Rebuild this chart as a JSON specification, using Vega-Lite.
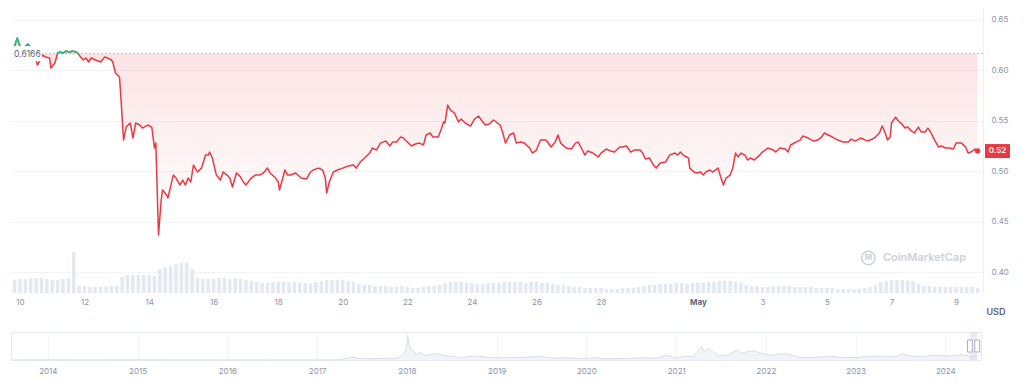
{
"$schema":"https://vega.github.io/schema/vega-lite/v6.json",
"background":"#ffffff",
"padding":{"left":8,"top":8,"right":0,"bottom":0},
"config":{"font":"Inter","view":{"stroke":null}},
"spacing":15,
"datasets":{
"price":[
{"t":"2024-04-09T19:00","p":0.6202},{"t":"2024-04-09T22:00","p":0.6321},{"t":"2024-04-10T01:00","p":0.6202},{"t":"2024-04-10T06:00","p":0.6262},{"t":"2024-04-10T10:00","p":0.6182},{"t":"2024-04-10T13:00","p":0.6053},{"t":"2024-04-10T17:00","p":0.6152},{"t":"2024-04-10T19:00","p":0.6133},{"t":"2024-04-10T22:00","p":0.6123},{"t":"2024-04-10T23:00","p":0.6023},
{"t":"2024-04-11T02:00","p":0.6073},{"t":"2024-04-11T04:00","p":0.6172},{"t":"2024-04-11T06:00","p":0.6182},{"t":"2024-04-11T08:00","p":0.6172},{"t":"2024-04-11T10:00","p":0.6192},{"t":"2024-04-11T13:00","p":0.6182},{"t":"2024-04-11T15:00","p":0.6192},{"t":"2024-04-11T18:00","p":0.6182},{"t":"2024-04-11T19:00","p":0.6172},{"t":"2024-04-11T21:00","p":0.6133},{"t":"2024-04-11T23:00","p":0.6103},
{"t":"2024-04-12T01:00","p":0.6123},{"t":"2024-04-12T03:00","p":0.6083},{"t":"2024-04-12T05:00","p":0.6123},{"t":"2024-04-12T08:00","p":0.6103},{"t":"2024-04-12T10:00","p":0.6093},{"t":"2024-04-12T12:00","p":0.6083},{"t":"2024-04-12T15:00","p":0.6133},{"t":"2024-04-12T17:00","p":0.6123},{"t":"2024-04-12T20:00","p":0.6103},{"t":"2024-04-12T21:00","p":0.6083},{"t":"2024-04-12T23:00","p":0.5974},
{"t":"2024-04-13T02:00","p":0.5934},{"t":"2024-04-13T03:00","p":0.5736},{"t":"2024-04-13T05:00","p":0.5309},{"t":"2024-04-13T07:00","p":0.5438},{"t":"2024-04-13T10:00","p":0.5478},{"t":"2024-04-13T12:00","p":0.5329},{"t":"2024-04-13T14:00","p":0.5478},{"t":"2024-04-13T17:00","p":0.5458},{"t":"2024-04-13T19:00","p":0.5428},{"t":"2024-04-13T23:00","p":0.5458},
{"t":"2024-04-14T02:00","p":0.5438},{"t":"2024-04-14T04:00","p":0.523},{"t":"2024-04-14T05:00","p":0.5279},{"t":"2024-04-14T07:00","p":0.4367},{"t":"2024-04-14T09:00","p":0.4714},{"t":"2024-04-14T10:00","p":0.4813},{"t":"2024-04-14T13:00","p":0.4764},{"t":"2024-04-14T14:00","p":0.4734},{"t":"2024-04-14T18:00","p":0.4962},{"t":"2024-04-14T20:00","p":0.4932},{"t":"2024-04-14T23:00","p":0.4863},
{"t":"2024-04-15T01:00","p":0.4912},{"t":"2024-04-15T03:00","p":0.4863},{"t":"2024-04-15T05:00","p":0.4932},{"t":"2024-04-15T07:00","p":0.4893},{"t":"2024-04-15T09:00","p":0.5061},{"t":"2024-04-15T12:00","p":0.4992},{"t":"2024-04-15T15:00","p":0.5031},{"t":"2024-04-15T18:00","p":0.516},{"t":"2024-04-15T20:00","p":0.516},{"t":"2024-04-15T21:00","p":0.519},{"t":"2024-04-15T23:00","p":0.5131},
{"t":"2024-04-16T02:00","p":0.4962},{"t":"2024-04-16T05:00","p":0.4912},{"t":"2024-04-16T07:00","p":0.4992},{"t":"2024-04-16T10:00","p":0.4962},{"t":"2024-04-16T12:00","p":0.4932},{"t":"2024-04-16T14:00","p":0.4843},{"t":"2024-04-16T17:00","p":0.4982},{"t":"2024-04-16T20:00","p":0.4942},{"t":"2024-04-16T22:00","p":0.4893},
{"t":"2024-04-17T00:00","p":0.4863},{"t":"2024-04-17T04:00","p":0.4932},{"t":"2024-04-17T07:00","p":0.4962},{"t":"2024-04-17T10:00","p":0.4962},{"t":"2024-04-17T13:00","p":0.4982},{"t":"2024-04-17T16:00","p":0.5031},{"t":"2024-04-17T18:00","p":0.4982},{"t":"2024-04-17T22:00","p":0.4932},
{"t":"2024-04-18T00:00","p":0.4893},{"t":"2024-04-18T01:00","p":0.4813},{"t":"2024-04-18T05:00","p":0.5012},{"t":"2024-04-18T07:00","p":0.4962},{"t":"2024-04-18T09:00","p":0.4962},{"t":"2024-04-18T13:00","p":0.4982},{"t":"2024-04-18T17:00","p":0.4932},{"t":"2024-04-18T21:00","p":0.4922},
{"t":"2024-04-19T00:00","p":0.4992},{"t":"2024-04-19T02:00","p":0.5012},{"t":"2024-04-19T06:00","p":0.5031},{"t":"2024-04-19T09:00","p":0.5012},{"t":"2024-04-19T11:00","p":0.4932},{"t":"2024-04-19T12:00","p":0.4783},{"t":"2024-04-19T14:00","p":0.4893},{"t":"2024-04-19T17:00","p":0.4992},{"t":"2024-04-19T20:00","p":0.5012},
{"t":"2024-04-20T00:00","p":0.5031},{"t":"2024-04-20T04:00","p":0.5051},{"t":"2024-04-20T08:00","p":0.5061},{"t":"2024-04-20T10:00","p":0.5031},{"t":"2024-04-20T13:00","p":0.5091},{"t":"2024-04-20T17:00","p":0.5141},{"t":"2024-04-20T20:00","p":0.518},{"t":"2024-04-20T22:00","p":0.523},
{"t":"2024-04-21T01:00","p":0.521},{"t":"2024-04-21T04:00","p":0.5279},{"t":"2024-04-21T06:00","p":0.5289},{"t":"2024-04-21T08:00","p":0.5299},{"t":"2024-04-21T11:00","p":0.525},{"t":"2024-04-21T13:00","p":0.5289},{"t":"2024-04-21T16:00","p":0.5289},{"t":"2024-04-21T19:00","p":0.5339},{"t":"2024-04-21T21:00","p":0.5329},
{"t":"2024-04-22T00:00","p":0.5289},{"t":"2024-04-22T03:00","p":0.525},{"t":"2024-04-22T06:00","p":0.527},{"t":"2024-04-22T09:00","p":0.5279},{"t":"2024-04-22T12:00","p":0.526},{"t":"2024-04-22T14:00","p":0.5359},{"t":"2024-04-22T17:00","p":0.5379},{"t":"2024-04-22T19:00","p":0.5339},{"t":"2024-04-22T23:00","p":0.5339},
{"t":"2024-04-23T01:00","p":0.5408},{"t":"2024-04-23T03:00","p":0.5488},{"t":"2024-04-23T04:00","p":0.5478},{"t":"2024-04-23T06:00","p":0.5656},{"t":"2024-04-23T08:00","p":0.5607},{"t":"2024-04-23T11:00","p":0.5577},{"t":"2024-04-23T14:00","p":0.5488},{"t":"2024-04-23T16:00","p":0.5518},{"t":"2024-04-23T19:00","p":0.5478},{"t":"2024-04-23T23:00","p":0.5448},
{"t":"2024-04-24T02:00","p":0.5518},{"t":"2024-04-24T05:00","p":0.5547},{"t":"2024-04-24T07:00","p":0.5508},{"t":"2024-04-24T10:00","p":0.5458},{"t":"2024-04-24T13:00","p":0.5468},{"t":"2024-04-24T16:00","p":0.5508},{"t":"2024-04-24T18:00","p":0.5488},{"t":"2024-04-24T21:00","p":0.5458},{"t":"2024-04-24T23:00","p":0.5379},
{"t":"2024-04-25T01:00","p":0.5279},{"t":"2024-04-25T04:00","p":0.5359},{"t":"2024-04-25T07:00","p":0.5379},{"t":"2024-04-25T09:00","p":0.5279},{"t":"2024-04-25T12:00","p":0.5289},{"t":"2024-04-25T15:00","p":0.5279},{"t":"2024-04-25T19:00","p":0.523},{"t":"2024-04-25T21:00","p":0.518},
{"t":"2024-04-26T00:00","p":0.521},{"t":"2024-04-26T03:00","p":0.5309},{"t":"2024-04-26T07:00","p":0.5309},{"t":"2024-04-26T11:00","p":0.524},{"t":"2024-04-26T14:00","p":0.5289},{"t":"2024-04-26T16:00","p":0.5359},{"t":"2024-04-26T18:00","p":0.5279},{"t":"2024-04-26T22:00","p":0.523},
{"t":"2024-04-27T02:00","p":0.522},{"t":"2024-04-27T05:00","p":0.5279},{"t":"2024-04-27T07:00","p":0.5289},{"t":"2024-04-27T09:00","p":0.524},{"t":"2024-04-27T12:00","p":0.516},{"t":"2024-04-27T14:00","p":0.52},{"t":"2024-04-27T18:00","p":0.518},{"t":"2024-04-27T22:00","p":0.5141},
{"t":"2024-04-28T00:00","p":0.518},{"t":"2024-04-28T04:00","p":0.522},{"t":"2024-04-28T07:00","p":0.52},{"t":"2024-04-28T10:00","p":0.519},{"t":"2024-04-28T14:00","p":0.524},{"t":"2024-04-28T16:00","p":0.524},{"t":"2024-04-28T19:00","p":0.525},{"t":"2024-04-28T22:00","p":0.519},
{"t":"2024-04-29T01:00","p":0.521},{"t":"2024-04-29T05:00","p":0.521},{"t":"2024-04-29T07:00","p":0.518},{"t":"2024-04-29T09:00","p":0.5121},{"t":"2024-04-29T12:00","p":0.5131},{"t":"2024-04-29T15:00","p":0.5061},{"t":"2024-04-29T17:00","p":0.5031},{"t":"2024-04-29T20:00","p":0.5081},
{"t":"2024-04-30T00:00","p":0.5091},{"t":"2024-04-30T03:00","p":0.516},{"t":"2024-04-30T07:00","p":0.518},{"t":"2024-04-30T09:00","p":0.516},{"t":"2024-04-30T11:00","p":0.519},{"t":"2024-04-30T13:00","p":0.516},{"t":"2024-04-30T17:00","p":0.5131},{"t":"2024-04-30T18:00","p":0.5031},{"t":"2024-04-30T21:00","p":0.4992},{"t":"2024-04-30T23:00","p":0.4982},
{"t":"2024-05-01T02:00","p":0.4992},{"t":"2024-05-01T04:00","p":0.4962},{"t":"2024-05-01T06:00","p":0.4992},{"t":"2024-05-01T09:00","p":0.5012},{"t":"2024-05-01T11:00","p":0.4992},{"t":"2024-05-01T15:00","p":0.5031},{"t":"2024-05-01T17:00","p":0.4942},{"t":"2024-05-01T19:00","p":0.4863},{"t":"2024-05-01T21:00","p":0.4932},
{"t":"2024-05-02T00:00","p":0.4962},{"t":"2024-05-02T02:00","p":0.5031},{"t":"2024-05-02T04:00","p":0.518},{"t":"2024-05-02T06:00","p":0.5141},{"t":"2024-05-02T08:00","p":0.518},{"t":"2024-05-02T11:00","p":0.516},{"t":"2024-05-02T13:00","p":0.5111},{"t":"2024-05-02T15:00","p":0.5131},{"t":"2024-05-02T18:00","p":0.5111},{"t":"2024-05-02T22:00","p":0.516},
{"t":"2024-05-03T00:00","p":0.519},{"t":"2024-05-03T04:00","p":0.523},{"t":"2024-05-03T08:00","p":0.521},{"t":"2024-05-03T10:00","p":0.519},{"t":"2024-05-03T13:00","p":0.523},{"t":"2024-05-03T17:00","p":0.522},{"t":"2024-05-03T19:00","p":0.519},{"t":"2024-05-03T21:00","p":0.526},
{"t":"2024-05-04T01:00","p":0.5289},{"t":"2024-05-04T04:00","p":0.5309},{"t":"2024-05-04T06:00","p":0.5349},{"t":"2024-05-04T10:00","p":0.5329},{"t":"2024-05-04T14:00","p":0.5299},{"t":"2024-05-04T17:00","p":0.5309},{"t":"2024-05-04T20:00","p":0.5339},{"t":"2024-05-04T22:00","p":0.5379},
{"t":"2024-05-05T01:00","p":0.5359},{"t":"2024-05-05T04:00","p":0.5339},{"t":"2024-05-05T08:00","p":0.5309},{"t":"2024-05-05T12:00","p":0.5289},{"t":"2024-05-05T16:00","p":0.5289},{"t":"2024-05-05T18:00","p":0.5319},{"t":"2024-05-05T21:00","p":0.5299},
{"t":"2024-05-06T01:00","p":0.5329},{"t":"2024-05-06T03:00","p":0.5319},{"t":"2024-05-06T06:00","p":0.5299},{"t":"2024-05-06T10:00","p":0.5319},{"t":"2024-05-06T12:00","p":0.5339},{"t":"2024-05-06T15:00","p":0.5379},{"t":"2024-05-06T17:00","p":0.5448},{"t":"2024-05-06T19:00","p":0.5389},{"t":"2024-05-06T21:00","p":0.5309},{"t":"2024-05-06T23:00","p":0.5339},
{"t":"2024-05-07T00:00","p":0.5478},{"t":"2024-05-07T03:00","p":0.5537},{"t":"2024-05-07T05:00","p":0.5498},{"t":"2024-05-07T07:00","p":0.5478},{"t":"2024-05-07T10:00","p":0.5428},{"t":"2024-05-07T12:00","p":0.5438},{"t":"2024-05-07T14:00","p":0.5408},{"t":"2024-05-07T17:00","p":0.5379},{"t":"2024-05-07T20:00","p":0.5438},{"t":"2024-05-07T22:00","p":0.5389},
{"t":"2024-05-08T01:00","p":0.5389},{"t":"2024-05-08T03:00","p":0.5428},{"t":"2024-05-08T05:00","p":0.5389},{"t":"2024-05-08T08:00","p":0.5309},{"t":"2024-05-08T11:00","p":0.524},{"t":"2024-05-08T13:00","p":0.525},{"t":"2024-05-08T16:00","p":0.523},{"t":"2024-05-08T19:00","p":0.523},{"t":"2024-05-08T22:00","p":0.522},
{"t":"2024-05-09T00:00","p":0.5279},{"t":"2024-05-09T04:00","p":0.5279},{"t":"2024-05-09T07:00","p":0.524},{"t":"2024-05-09T09:00","p":0.518},{"t":"2024-05-09T11:00","p":0.519},{"t":"2024-05-09T14:00","p":0.522},{"t":"2024-05-09T16:00","p":0.52}
],
"green":[
{"t":"2024-04-09T19:00","p":0.6202,"seg":1},{"t":"2024-04-09T22:00","p":0.6321,"seg":1},{"t":"2024-04-10T01:00","p":0.6202,"seg":1},{"t":"2024-04-10T06:00","p":0.6262,"seg":1},{"t":"2024-04-10T10:00","p":0.6182,"seg":1},{"t":"2024-04-10T11:00","p":0.6166,"seg":1},
{"t":"2024-04-11T03:30","p":0.6166,"seg":2},{"t":"2024-04-11T04:00","p":0.6172,"seg":2},{"t":"2024-04-11T06:00","p":0.6182,"seg":2},{"t":"2024-04-11T08:00","p":0.6172,"seg":2},{"t":"2024-04-11T10:00","p":0.6192,"seg":2},{"t":"2024-04-11T13:00","p":0.6182,"seg":2},{"t":"2024-04-11T15:00","p":0.6192,"seg":2},{"t":"2024-04-11T18:00","p":0.6182,"seg":2},{"t":"2024-04-11T19:00","p":0.6172,"seg":2},{"t":"2024-04-11T20:00","p":0.6166,"seg":2}
],
"vol":[
{"t":"2024-04-09T20:00","v":1.3},
{"t":"2024-04-10T00:00","v":1.4},{"t":"2024-04-10T04:00","v":1.4},{"t":"2024-04-10T08:00","v":1.5},{"t":"2024-04-10T12:00","v":1.5},{"t":"2024-04-10T16:00","v":1.5},{"t":"2024-04-10T20:00","v":1.4},
{"t":"2024-04-11T00:00","v":1.3},{"t":"2024-04-11T04:00","v":1.3},{"t":"2024-04-11T08:00","v":1.4},{"t":"2024-04-11T12:00","v":1.5},{"t":"2024-04-11T16:00","v":4.1},{"t":"2024-04-11T20:00","v":0.7},
{"t":"2024-04-12T00:00","v":0.7},{"t":"2024-04-12T04:00","v":0.6},{"t":"2024-04-12T08:00","v":0.6},{"t":"2024-04-12T12:00","v":0.6},{"t":"2024-04-12T16:00","v":0.6},{"t":"2024-04-12T20:00","v":0.7},
{"t":"2024-04-13T00:00","v":0.7},{"t":"2024-04-13T04:00","v":1.6},{"t":"2024-04-13T08:00","v":1.8},{"t":"2024-04-13T12:00","v":1.8},{"t":"2024-04-13T16:00","v":1.8},{"t":"2024-04-13T20:00","v":1.8},
{"t":"2024-04-14T00:00","v":1.8},{"t":"2024-04-14T04:00","v":1.7},{"t":"2024-04-14T08:00","v":2.4},{"t":"2024-04-14T12:00","v":2.6},{"t":"2024-04-14T16:00","v":2.7},{"t":"2024-04-14T20:00","v":2.9},
{"t":"2024-04-15T00:00","v":3.0},{"t":"2024-04-15T04:00","v":3.0},{"t":"2024-04-15T08:00","v":2.4},{"t":"2024-04-15T12:00","v":1.5},{"t":"2024-04-15T16:00","v":1.4},{"t":"2024-04-15T20:00","v":1.4},
{"t":"2024-04-16T00:00","v":1.4},{"t":"2024-04-16T04:00","v":1.5},{"t":"2024-04-16T08:00","v":1.5},{"t":"2024-04-16T12:00","v":1.4},{"t":"2024-04-16T16:00","v":1.5},{"t":"2024-04-16T20:00","v":1.4},
{"t":"2024-04-17T00:00","v":1.3},{"t":"2024-04-17T04:00","v":1.2},{"t":"2024-04-17T08:00","v":1.1},{"t":"2024-04-17T12:00","v":1.0},{"t":"2024-04-17T16:00","v":1.0},{"t":"2024-04-17T20:00","v":1.1},
{"t":"2024-04-18T00:00","v":1.1},{"t":"2024-04-18T04:00","v":1.1},{"t":"2024-04-18T08:00","v":1.1},{"t":"2024-04-18T12:00","v":1.1},{"t":"2024-04-18T16:00","v":1.0},{"t":"2024-04-18T20:00","v":1.0},
{"t":"2024-04-19T00:00","v":0.9},{"t":"2024-04-19T04:00","v":1.1},{"t":"2024-04-19T08:00","v":1.2},{"t":"2024-04-19T12:00","v":1.3},{"t":"2024-04-19T16:00","v":1.3},{"t":"2024-04-19T20:00","v":1.3},
{"t":"2024-04-20T00:00","v":1.3},{"t":"2024-04-20T04:00","v":1.2},{"t":"2024-04-20T08:00","v":1.1},{"t":"2024-04-20T12:00","v":0.9},{"t":"2024-04-20T16:00","v":0.8},{"t":"2024-04-20T20:00","v":0.8},
{"t":"2024-04-21T00:00","v":0.7},{"t":"2024-04-21T04:00","v":0.7},{"t":"2024-04-21T08:00","v":0.7},{"t":"2024-04-21T12:00","v":0.6},{"t":"2024-04-21T16:00","v":0.6},{"t":"2024-04-21T20:00","v":0.7},
{"t":"2024-04-22T00:00","v":0.6},{"t":"2024-04-22T04:00","v":0.5},{"t":"2024-04-22T08:00","v":0.5},{"t":"2024-04-22T12:00","v":0.6},{"t":"2024-04-22T16:00","v":0.7},{"t":"2024-04-22T20:00","v":0.7},
{"t":"2024-04-23T00:00","v":0.8},{"t":"2024-04-23T04:00","v":1.0},{"t":"2024-04-23T08:00","v":1.1},{"t":"2024-04-23T12:00","v":1.1},{"t":"2024-04-23T16:00","v":1.1},{"t":"2024-04-23T20:00","v":1.0},
{"t":"2024-04-24T00:00","v":1.0},{"t":"2024-04-24T04:00","v":0.9},{"t":"2024-04-24T08:00","v":0.9},{"t":"2024-04-24T12:00","v":1.0},{"t":"2024-04-24T16:00","v":1.0},{"t":"2024-04-24T20:00","v":1.0},
{"t":"2024-04-25T00:00","v":1.1},{"t":"2024-04-25T04:00","v":1.1},{"t":"2024-04-25T08:00","v":1.1},{"t":"2024-04-25T12:00","v":1.1},{"t":"2024-04-25T16:00","v":1.0},{"t":"2024-04-25T20:00","v":1.1},
{"t":"2024-04-26T00:00","v":1.1},{"t":"2024-04-26T04:00","v":1.0},{"t":"2024-04-26T08:00","v":1.0},{"t":"2024-04-26T12:00","v":0.9},{"t":"2024-04-26T16:00","v":0.8},{"t":"2024-04-26T20:00","v":0.8},
{"t":"2024-04-27T00:00","v":0.7},{"t":"2024-04-27T04:00","v":0.6},{"t":"2024-04-27T08:00","v":0.6},{"t":"2024-04-27T12:00","v":0.5},{"t":"2024-04-27T16:00","v":0.5},{"t":"2024-04-27T20:00","v":0.5},
{"t":"2024-04-28T00:00","v":0.5},{"t":"2024-04-28T04:00","v":0.4},{"t":"2024-04-28T08:00","v":0.4},{"t":"2024-04-28T12:00","v":0.4},{"t":"2024-04-28T16:00","v":0.5},{"t":"2024-04-28T20:00","v":0.5},
{"t":"2024-04-29T00:00","v":0.5},{"t":"2024-04-29T04:00","v":0.6},{"t":"2024-04-29T08:00","v":0.7},{"t":"2024-04-29T12:00","v":0.8},{"t":"2024-04-29T16:00","v":0.8},{"t":"2024-04-29T20:00","v":0.9},
{"t":"2024-04-30T00:00","v":0.9},{"t":"2024-04-30T04:00","v":0.9},{"t":"2024-04-30T08:00","v":1.0},{"t":"2024-04-30T12:00","v":1.0},{"t":"2024-04-30T16:00","v":0.9},{"t":"2024-04-30T20:00","v":1.0},
{"t":"2024-05-01T00:00","v":1.0},{"t":"2024-05-01T04:00","v":1.0},{"t":"2024-05-01T08:00","v":1.1},{"t":"2024-05-01T12:00","v":1.1},{"t":"2024-05-01T16:00","v":1.2},{"t":"2024-05-01T20:00","v":1.2},
{"t":"2024-05-02T00:00","v":1.2},{"t":"2024-05-02T04:00","v":1.1},{"t":"2024-05-02T08:00","v":1.0},{"t":"2024-05-02T12:00","v":0.8},{"t":"2024-05-02T16:00","v":0.7},{"t":"2024-05-02T20:00","v":0.7},
{"t":"2024-05-03T00:00","v":0.6},{"t":"2024-05-03T04:00","v":0.6},{"t":"2024-05-03T08:00","v":0.7},{"t":"2024-05-03T12:00","v":0.7},{"t":"2024-05-03T16:00","v":0.7},{"t":"2024-05-03T20:00","v":0.7},
{"t":"2024-05-04T00:00","v":0.6},{"t":"2024-05-04T04:00","v":0.6},{"t":"2024-05-04T08:00","v":0.6},{"t":"2024-05-04T12:00","v":0.6},{"t":"2024-05-04T16:00","v":0.5},{"t":"2024-05-04T20:00","v":0.5},
{"t":"2024-05-05T00:00","v":0.5},{"t":"2024-05-05T04:00","v":0.5},{"t":"2024-05-05T08:00","v":0.4},{"t":"2024-05-05T12:00","v":0.4},{"t":"2024-05-05T16:00","v":0.4},{"t":"2024-05-05T20:00","v":0.4},
{"t":"2024-05-06T00:00","v":0.4},{"t":"2024-05-06T04:00","v":0.5},{"t":"2024-05-06T08:00","v":0.6},{"t":"2024-05-06T12:00","v":0.8},{"t":"2024-05-06T16:00","v":1.1},{"t":"2024-05-06T20:00","v":1.2},
{"t":"2024-05-07T00:00","v":1.3},{"t":"2024-05-07T04:00","v":1.3},{"t":"2024-05-07T08:00","v":1.3},{"t":"2024-05-07T12:00","v":1.2},{"t":"2024-05-07T16:00","v":1.2},{"t":"2024-05-07T20:00","v":0.9},
{"t":"2024-05-08T00:00","v":0.7},{"t":"2024-05-08T04:00","v":0.7},{"t":"2024-05-08T08:00","v":0.6},{"t":"2024-05-08T12:00","v":0.6},{"t":"2024-05-08T16:00","v":0.6},{"t":"2024-05-08T20:00","v":0.6},
{"t":"2024-05-09T00:00","v":0.6},{"t":"2024-05-09T04:00","v":0.6},{"t":"2024-05-09T08:00","v":0.6},{"t":"2024-05-09T12:00","v":0.6},{"t":"2024-05-09T16:00","v":0.5}
],
"hist":[
{"t":"2013-08-04T00:00","p":0.006},{"t":"2013-12-20T00:00","p":0.02},{"t":"2014-01-15T00:00","p":0.025},{"t":"2014-06-01T00:00","p":0.006},{"t":"2014-12-20T00:00","p":0.025},{"t":"2015-06-01T00:00","p":0.01},{"t":"2015-12-01T00:00","p":0.006},{"t":"2016-06-01T00:00","p":0.007},{"t":"2017-01-01T00:00","p":0.007},{"t":"2017-03-15T00:00","p":0.01},{"t":"2017-04-05T00:00","p":0.06},{"t":"2017-05-17T00:00","p":0.38},{"t":"2017-06-15T00:00","p":0.26},{"t":"2017-08-01T00:00","p":0.17},{"t":"2017-09-15T00:00","p":0.2},{"t":"2017-10-15T00:00","p":0.25},{"t":"2017-11-20T00:00","p":0.22},{"t":"2017-12-12T00:00","p":0.5},{"t":"2017-12-22T00:00","p":1.05},{"t":"2017-12-28T00:00","p":1.4},{"t":"2018-01-04T00:00","p":3.3},{"t":"2018-01-10T00:00","p":2.1},{"t":"2018-01-18T00:00","p":1.4},{"t":"2018-01-26T00:00","p":1.3},{"t":"2018-02-06T00:00","p":0.7},{"t":"2018-02-20T00:00","p":1.0},{"t":"2018-03-20T00:00","p":0.62},{"t":"2018-04-25T00:00","p":0.85},{"t":"2018-06-01T00:00","p":0.6},{"t":"2018-07-15T00:00","p":0.45},{"t":"2018-08-15T00:00","p":0.28},{"t":"2018-09-21T00:00","p":0.55},{"t":"2018-11-01T00:00","p":0.46},{"t":"2018-12-15T00:00","p":0.3},{"t":"2019-02-01T00:00","p":0.3},{"t":"2019-04-01T00:00","p":0.35},{"t":"2019-06-25T00:00","p":0.47},{"t":"2019-08-15T00:00","p":0.27},{"t":"2019-11-01T00:00","p":0.29},{"t":"2019-12-15T00:00","p":0.19},{"t":"2020-02-15T00:00","p":0.33},{"t":"2020-03-13T00:00","p":0.15},{"t":"2020-06-01T00:00","p":0.2},{"t":"2020-08-15T00:00","p":0.3},{"t":"2020-10-15T00:00","p":0.25},{"t":"2020-11-24T00:00","p":0.68},{"t":"2020-12-29T00:00","p":0.22},{"t":"2021-02-01T00:00","p":0.5},{"t":"2021-03-10T00:00","p":0.45},{"t":"2021-04-14T00:00","p":1.8},{"t":"2021-04-25T00:00","p":1.1},{"t":"2021-05-12T00:00","p":1.5},{"t":"2021-06-22T00:00","p":0.6},{"t":"2021-07-20T00:00","p":0.55},{"t":"2021-09-06T00:00","p":1.35},{"t":"2021-09-22T00:00","p":0.95},{"t":"2021-11-10T00:00","p":1.25},{"t":"2021-12-20T00:00","p":0.85},{"t":"2022-01-24T00:00","p":0.6},{"t":"2022-02-15T00:00","p":0.8},{"t":"2022-03-28T00:00","p":0.84},{"t":"2022-05-12T00:00","p":0.4},{"t":"2022-06-18T00:00","p":0.31},{"t":"2022-09-23T00:00","p":0.49},{"t":"2022-11-09T00:00","p":0.33},{"t":"2022-12-30T00:00","p":0.34},{"t":"2023-03-29T00:00","p":0.54},{"t":"2023-06-15T00:00","p":0.47},{"t":"2023-07-13T00:00","p":0.82},{"t":"2023-08-17T00:00","p":0.5},{"t":"2023-10-15T00:00","p":0.5},{"t":"2023-11-15T00:00","p":0.66},{"t":"2024-01-20T00:00","p":0.52},{"t":"2024-03-11T00:00","p":0.72},{"t":"2024-04-13T00:00","p":0.49},{"t":"2024-05-09T00:00","p":0.52}
]
},
"vconcat":[
{
"width":972,"height":285,
"layer":[
{"data":{"name":"vol"},
 "mark":{"type":"bar","size":3.5,"color":"#e4e8f0"},
 "encoding":{
  "x":{"field":"t","type":"temporal","title":null,"scale":{"domain":[{"year":2024,"month":4,"date":9,"hours":17,"minutes":20},{"year":2024,"month":5,"date":9,"hours":20}],"nice":false,"padding":0}},
  "y":{"field":"v","type":"quantitative","title":null,"scale":{"domain":[0,28.5],"nice":false},"axis":null}}},
{"layer":[
 {"data":{"name":"price"},
  "mark":{"type":"area","color":{"gradient":"linear","x1":0,"y1":0,"x2":0,"y2":1,"stops":[{"offset":0,"color":"rgba(234,57,67,0.15)"},{"offset":1,"color":"rgba(234,57,67,0)"}]}},
  "encoding":{
   "x":{"field":"t","type":"temporal","title":null,
    "scale":{"domain":[{"year":2024,"month":4,"date":9,"hours":17,"minutes":20},{"year":2024,"month":5,"date":9,"hours":20}],"nice":false,"padding":0},
    "axis":{"values":[{"year":2024,"month":4,"date":10},{"year":2024,"month":4,"date":12},{"year":2024,"month":4,"date":14},{"year":2024,"month":4,"date":16},{"year":2024,"month":4,"date":18},{"year":2024,"month":4,"date":20},{"year":2024,"month":4,"date":22},{"year":2024,"month":4,"date":24},{"year":2024,"month":4,"date":26},{"year":2024,"month":4,"date":28},{"year":2024,"month":5,"date":1},{"year":2024,"month":5,"date":3},{"year":2024,"month":5,"date":5},{"year":2024,"month":5,"date":7},{"year":2024,"month":5,"date":9}],
     "labelExpr":"date(datum.value) == 1 ? timeFormat(datum.value, '%b') : timeFormat(datum.value, '%-d')",
     "grid":false,"ticks":false,"domain":false,"labelFlush":false,"labelOverlap":false,
     "labelFontSize":8,"labelPadding":5,"labelFont":"Inter",
     "labelColor":{"condition":{"test":"date(datum.value) == 1","value":"#58667e"},"value":"#8a93a6"},
     "labelFontWeight":{"condition":{"test":"date(datum.value) == 1","value":700},"value":400}}},
   "y":{"field":"p","type":"quantitative","title":"USD",
    "scale":{"domain":[0.3792,0.6619],"nice":false,"zero":false},
    "axis":{"orient":"right","values":[0.4,0.45,0.5,0.55,0.6,0.65],"format":".2f",
     "title":"USD","titleAngle":0,"titleX":3,"titleY":303,"titleAlign":"left","titleBaseline":"middle","titleFontSize":9,"titleFontWeight":600,"titleColor":"#58667e","titleFont":"Inter",
     "labelColor":"#8a93a6","labelFontSize":8,"labelPadding":8,"labelFont":"Inter","ticks":false,
     "domain":true,"domainColor":"#eceff3","grid":true,"gridColor":"#f1f3f6"}},
   "y2":{"datum":0.6166}}},
 {"data":{"name":"green"},
  "mark":{"type":"area","color":"rgba(22,199,132,0.12)"},
  "encoding":{"x":{"field":"t","type":"temporal"},"y":{"field":"p","type":"quantitative"},"y2":{"datum":0.6166},"detail":{"field":"seg","type":"nominal"}}},
 {"data":{"values":[{}]},
  "mark":{"type":"rule","color":"#a6b0c3","strokeDash":[1.5,2.5],"strokeWidth":1},
  "encoding":{"y":{"datum":0.6166,"type":"quantitative"}}},
 {"data":{"name":"price"},
  "mark":{"type":"line","color":"#ea3943","strokeWidth":1.5,"strokeJoin":"round"},
  "encoding":{"x":{"field":"t","type":"temporal"},"y":{"field":"p","type":"quantitative"}}},
 {"data":{"name":"green"},
  "mark":{"type":"line","color":"#16c784","strokeWidth":1.5,"strokeJoin":"round"},
  "encoding":{"x":{"field":"t","type":"temporal"},"y":{"field":"p","type":"quantitative"},"detail":{"field":"seg","type":"nominal"}}},
 {"data":{"values":[{"t":"2024-05-09T16:00","p":0.52}]},
  "mark":{"type":"point","filled":true,"color":"#ea3943","size":30,"opacity":1},
  "encoding":{"x":{"field":"t","type":"temporal"},"y":{"field":"p","type":"quantitative"}}},
 {"data":{"values":[{}]},
  "mark":{"type":"point","shape":"M-1,-0.5H1V0.5H-1Z","size":900,"filled":true,"color":"#ffffff","opacity":1,"xOffset":16},
  "encoding":{"x":{"datum":{"year":2024,"month":4,"date":9,"hours":17,"minutes":20},"type":"temporal"},"y":{"datum":0.6166,"type":"quantitative"}}},
 {"data":{"values":[{}]},
  "mark":{"type":"text","text":"0.6166","align":"left","baseline":"middle","dx":3,"fontSize":8.5,"color":"#58667e","font":"Inter"},
  "encoding":{"x":{"datum":{"year":2024,"month":4,"date":9,"hours":17,"minutes":20},"type":"temporal"},"y":{"datum":0.6166,"type":"quantitative"}}},
 {"data":{"values":[{}]},
  "mark":{"type":"point","shape":"M-1,-0.56H1V0.56H-1Z","size":625,"filled":true,"color":"#ea3943","opacity":1,"xOffset":14.5},
  "encoding":{"x":{"datum":{"year":2024,"month":5,"date":9,"hours":20},"type":"temporal"},"y":{"datum":0.52,"type":"quantitative"}}},
 {"data":{"values":[{}]},
  "mark":{"type":"text","text":"0.52","align":"center","baseline":"middle","xOffset":14.5,"fontSize":8,"fontWeight":600,"color":"#ffffff","font":"Inter"},
  "encoding":{"x":{"datum":{"year":2024,"month":5,"date":9,"hours":20},"type":"temporal"},"y":{"datum":0.52,"type":"quantitative"}}},
 {"data":{"values":[{}]},
  "mark":{"type":"point","shape":"circle","size":180,"filled":false,"color":"#cdd2da","strokeWidth":1.5,"opacity":1},
  "encoding":{"x":{"datum":{"year":2024,"month":5,"date":6,"hours":6,"minutes":48},"type":"temporal"},"y":{"datum":0.4139,"type":"quantitative"}}},
 {"data":{"values":[{}]},
  "mark":{"type":"text","text":"M","align":"center","baseline":"middle","fontSize":8,"fontWeight":700,"color":"#cdd2da","font":"Inter"},
  "encoding":{"x":{"datum":{"year":2024,"month":5,"date":6,"hours":6,"minutes":48},"type":"temporal"},"y":{"datum":0.4139,"type":"quantitative"}}},
 {"data":{"values":[{}]},
  "mark":{"type":"text","text":"CoinMarketCap","align":"left","baseline":"middle","fontSize":11,"fontWeight":600,"color":"#cdd2da","font":"Inter"},
  "encoding":{"x":{"datum":{"year":2024,"month":5,"date":6,"hours":17,"minutes":36},"type":"temporal"},"y":{"datum":0.4139,"type":"quantitative"}}}
]}
],
"resolve":{"scale":{"y":"independent"}}
},
{
"width":970,"height":28,
"view":{"stroke":"#e6e9ef"},
"layer":[
 {"data":{"name":"hist"},
  "mark":{"type":"area","color":"#eceff4","line":{"color":"#d9dee7","strokeWidth":1}},
  "encoding":{
   "x":{"field":"t","type":"temporal","title":null,
    "scale":{"domain":[{"year":2013,"month":8,"date":4},{"year":2024,"month":5,"date":25}],"nice":false,"padding":0},
    "axis":{"values":[{"year":2014,"month":1,"date":1},{"year":2015,"month":1,"date":1},{"year":2016,"month":1,"date":1},{"year":2017,"month":1,"date":1},{"year":2018,"month":1,"date":1},{"year":2019,"month":1,"date":1},{"year":2020,"month":1,"date":1},{"year":2021,"month":1,"date":1},{"year":2022,"month":1,"date":1},{"year":2023,"month":1,"date":1},{"year":2024,"month":1,"date":1}],
     "format":"%Y","labelColor":"#8a93a6","labelFontSize":8,"labelPadding":7,"labelFont":"Inter","ticks":false,"domain":false,"grid":true,"gridColor":"#f2f4f7","labelFlush":false}},
   "y":{"field":"p","type":"quantitative","scale":{"domain":[0,3.8],"nice":false},"axis":null}}},
 {"data":{"values":[{"a":"2024-04-09T17:00","b":"2024-05-09T17:00"}]},
  "mark":{"type":"rect","color":"#cfd6e2","opacity":0.45},
  "encoding":{"x":{"field":"a","type":"temporal","title":null},"x2":{"field":"b"}}},
 {"data":{"values":[{"h":"2024-04-09T17:00"},{"h":"2024-05-09T17:00"}]},
  "mark":{"type":"point","shape":"M-0.4,-1H0.4V1H-0.4Z","size":144,"filled":true,"fill":"#ffffff","stroke":"#a6b0c3","strokeWidth":1,"opacity":1},
  "encoding":{"x":{"field":"h","type":"temporal","title":null},"y":{"datum":1.9,"type":"quantitative","axis":null}}}
]
}
]
}
